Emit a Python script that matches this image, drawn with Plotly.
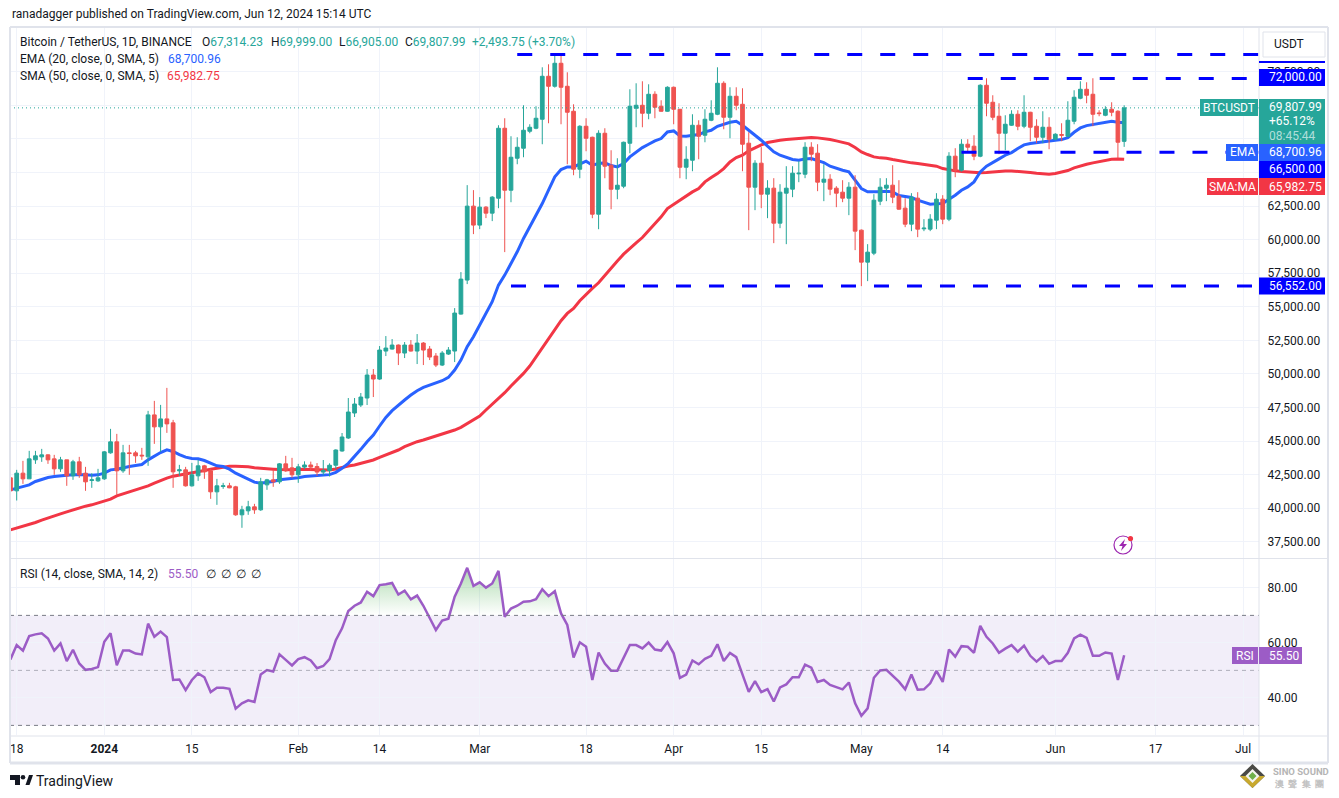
import pandas as pd
import plotly.graph_objects as go
from plotly.subplots import make_subplots

W, H = 1339, 798
FONT = "Roboto"
INK = "#131722"
TEAL = "#26a69a"
RED = "#ef5350"
EMA_BLUE = "#2962ff"
SMA_RED = "#f23645"
LEVEL_BLUE = "#0000ff"
RSI_PURPLE = "#9c5cc6"
GRID = "#f0f3fa"
FRAME = "#e0e3eb"

# daily candles, 17 Dec 2023 onwards
opens = [
    42152, 41185, 42499, 42077, 43491, 43714, 43863, 43565, 42821, 43491,
    42301, 43342, 42499, 41953, 41929, 42077, 44012, 44830, 42673, 44012,
    44012, 43838, 43714, 46839, 45946, 46541, 46244, 42673, 42747, 41557,
    42301, 43045, 42673, 41110, 41507, 41557, 41482, 39399, 39697, 39994,
    39771, 41631, 42003, 41854, 43193, 42896, 42375,
    42950, 43110, 42990, 42580, 42700,
    43090, 44150, 45117, 46977, 47572, 48093, 49804, 49506, 51590, 51739,
    52036, 51441, 52036, 51590, 52185, 51739, 51218, 50548, 51366, 51590,
    54342, 56872, 62378, 60964, 62303, 61857,
    62967, 68175, 63562, 65943, 66687, 67952, 68175, 68844, 72044, 71300,
    73011, 71300, 69440, 65124, 68324, 67505, 61776, 67803, 65422, 63636,
    63860, 67059, 69663, 69886, 69291, 70704, 69812, 69440, 71225, 69588,
    65273, 65794, 68398, 67654, 68770, 69216, 71523, 68993, 70556, 69960,
    67062, 63788, 65574, 63267, 63714, 61110, 63342, 63640, 64780, 64755,
    66764, 66318, 64160, 64383, 63714, 63416, 62970, 63788, 60589, 58208,
    58878, 62747, 63714, 63937, 63119, 62226, 61035, 62970, 60688, 60663,
    61333, 62895, 61407, 66095, 65053, 66987, 66839,
    66093, 71375, 70110, 69069, 67804, 68399, 69217, 68325, 69366, 68325,
    67506, 68250, 67357, 67705, 67581, 68697, 70408, 71077, 70705, 69317,
    69143, 69589, 69441,
]
highs = [
    42200, 42747, 43417, 44161, 44161, 44309, 43900, 43863, 43714, 43491,
    43491, 43714, 42970, 42499, 42821, 44150, 45797, 45425, 44607, 44607,
    44161, 44384, 47137, 47881, 47583, 48848, 46467, 43119, 42970, 43268,
    43491, 43119, 42821, 42077, 41780, 41780, 41557, 40069, 40441, 40217,
    42152, 42077, 42747, 43250, 43789, 43640, 43193,
    43380, 43360, 43250, 43480, 43232,
    44274, 45489, 48093, 48093, 48465, 50250, 50250, 51962, 52706, 52482,
    52080, 52259, 52408, 52854, 52259, 51962, 51441, 51590, 51887, 54789,
    57467, 63940, 63568, 63047, 62378, 63122,
    68398, 68919, 67580, 67505, 69886, 68472, 69812, 72713, 72936, 73606,
    73680, 72341, 69960, 68400, 68919, 67550, 68026, 68175, 66538, 65943,
    67180, 71076, 71523, 71672, 71448, 70928, 70258, 71300, 71280, 69600,
    66836, 69216, 68770, 69588, 70258, 72713, 71672, 71225, 71225, 71151,
    67880, 65797, 66764, 64309, 64458, 64011, 65351, 65351, 65723, 67136,
    67136, 66987, 65499, 64755, 63863, 64309, 64160, 64681, 60640, 59547,
    63267, 64458, 64458, 65425, 64309, 62970, 63342, 63416, 61407, 61779,
    63342, 63193, 66392, 66690, 67359, 67359, 67657,
    71450, 71896, 70631, 70036, 69143, 69515, 69515, 70631, 69400, 68846,
    69441, 68994, 67804, 68548, 70185, 71003, 71673, 71598, 71896, 69515,
    69813, 70110, 69515,
]
lows = [
    41150, 40465, 41705, 42077, 43193, 43342, 43193, 42375, 42598, 41557,
    42003, 42152, 41185, 41408, 41854, 42000, 43950, 40887, 42524, 42375,
    43268, 43491, 43045, 44681, 44086, 45500, 41408, 42301, 41500, 41500,
    41929, 42077, 40589, 40143, 41333, 41380, 39325, 38432, 39399, 39473,
    39697, 41259, 41482, 41705, 42598, 42152, 41780,
    42800, 42700, 42300, 42350, 42250,
    42800, 44100, 45050, 46679, 47423, 47572, 48167, 49450, 51218, 51700,
    50548, 51069, 51550, 50622, 50548, 50920, 50399, 50474, 51300, 50771,
    54300, 56574, 60294, 60666, 61485, 61262,
    62223, 58955, 62669, 65496, 66017, 67803, 68100, 66985, 68547, 71200,
    68472, 65496, 64678, 64455, 66464, 61479, 60660, 64455, 62148, 62892,
    63711, 66315, 68249, 68249, 68844, 68919, 69400, 69400, 68472, 64455,
    64380, 64976, 65868, 67133, 68700, 69150, 68100, 67431, 69514, 64976,
    60589, 62077, 62226, 61482, 59622, 60738, 59547, 63044, 64160, 64458,
    65723, 63491, 62747, 63193, 62300, 62672, 61705, 59101, 56422, 56795,
    58729, 62449, 62747, 62598, 62100, 60812, 60515, 60068, 60515, 60515,
    60663, 61035, 61259, 64532, 64950, 66467, 65797,
    66018, 69069, 68771, 66241, 66539, 68350, 68027, 68176, 67209, 67060,
    67060, 66613, 67283, 67209, 67506, 68473, 70333, 70036, 68325, 69069,
    69069, 69069, 65944,
]
closes = [
    41185, 42499, 42077, 43565, 43789, 43863, 43491, 42821, 43491, 42301,
    43342, 42375, 41854, 42003, 42152, 44086, 44830, 42673, 44012, 43962,
    43789, 43789, 46839, 45946, 46541, 46169, 42598, 42747, 41557, 42375,
    43045, 42598, 41110, 41557, 41557, 41408, 39399, 39771, 39994, 39771,
    41854, 42003, 41854, 43193, 42673, 42375, 42970,
    43110, 42950, 42580, 42700, 43090,
    44224, 45191, 47051, 47646, 48167, 49804, 49506, 51664, 51813, 52036,
    51441, 52036, 51590, 52185, 51664, 51143, 50548, 51441, 51664, 54417,
    56946, 62378, 60964, 62303, 61857, 63047,
    68175, 63562, 66017, 66761, 68026, 68249, 68919, 72044, 71300, 73011,
    71225, 69365, 65124, 68324, 67431, 61776, 67803, 65348, 63636, 63934,
    67133, 69812, 69886, 69291, 70704, 69737, 69440, 71225, 69588, 65273,
    65868, 68398, 67580, 68844, 69291, 71523, 68993, 70556, 69886, 66985,
    63788, 65574, 63267, 63714, 61110, 63416, 63714, 64830, 64830, 66764,
    66243, 64160, 64383, 63640, 63342, 62970, 63788, 60515, 58208, 58952,
    62821, 63788, 63937, 63044, 62151, 61035, 63044, 60663, 60738, 61407,
    62895, 61407, 66095, 65053, 66987, 66764, 66095,
    71375, 70036, 68994, 67804, 68473, 69217, 68325, 69366, 68250, 67506,
    68250, 67357, 67729, 67655, 68771, 70482, 71077, 70631, 69217, 69267,
    69589, 69366, 67134,
]
ema20 = [
    41259, 41383, 41457, 41631, 41879, 42053, 42177, 42251, 42325, 42350,
    42375, 42400, 42375, 42350, 42375, 42499, 42747, 42797, 42921, 42995,
    43070, 43144, 43491, 43789, 44037, 44235, 44111, 43888, 43690, 43590,
    43565, 43441, 43243, 43045, 42995, 42797, 42499, 42251, 42053, 41830,
    41755, 41830, 41879, 42003, 42053, 42077, 42152,
    42250, 42290, 42300, 42330, 42390, 42560,
    42860, 43232, 43728, 44274, 44844, 45340, 46010, 46655, 47150, 47572,
    47944, 48316, 48638, 48886, 49060, 49234, 49382, 49630, 50176, 50920,
    51912, 52656, 53524, 54392, 55260, 56500, 57244, 58112, 58980, 59972,
    60840, 61708,
    62570, 63562, 64554, 65100, 65298, 65298, 65496, 65720, 65422, 65546,
    65596, 65398, 65298, 65546, 66042, 66414, 66736, 66984, 67232, 67406,
    67902, 67976, 67604, 67580, 67654, 67704, 67902, 68026, 68324, 68474,
    68623, 68696, 68398, 68026, 67657, 67285, 66839, 66417, 66169,
    65996, 65847, 65797, 65896, 65921, 65797, 65623, 65350, 65177, 65053,
    64929, 64309, 63689, 63441, 63416, 63441, 63491, 63441, 63168, 63119,
    63020, 62821, 62647, 62523, 62548, 62573, 62893,
    63191, 63563, 63811, 64183, 64927, 65349, 65646, 65894, 66167, 66365,
    66663, 66936, 67035, 67109, 67159, 67234, 67283, 67333, 67482, 67878,
    68201, 68374, 68449, 68523, 68622, 68697, 68622,
]
sma50 = [
    38283, 38407, 38531, 38680, 38829, 39002, 39176, 39325, 39473, 39622,
    39771, 39920, 40044, 40143, 40267, 40391, 40565, 40813, 40962, 41085,
    41234, 41383, 41557, 41755, 41953, 42127, 42276, 42350, 42425, 42524,
    42623, 42697, 42797, 42871, 42945, 43020, 43020, 43020, 42970, 42896,
    42846, 42821, 42797, 42772, 42747, 42747, 42797,
    42780, 42760, 42740, 42730, 42740, 42810,
    42934, 43034, 43108, 43232, 43331, 43480, 43678, 43852, 44026, 44224,
    44472, 44670, 44844, 44968, 45117, 45266, 45365, 45514, 45712,
    45910, 46208, 46456, 46754, 47200, 47622, 48068, 48490, 48986, 49432,
    49928, 50474, 51150, 51912, 52532, 53226, 53846, 54392, 54764, 55334,
    55830, 56252, 56674,
    57240, 57780, 58300, 58800, 59250, 59650,
    60040, 60536, 61082, 61578, 62198, 62520, 62818, 63116, 63438, 63686,
    64182, 64504, 64802, 65174, 65670, 65992,
    66169, 66491, 66739, 66938, 67111, 67211, 67285, 67335, 67384, 67434,
    67484, 67484, 67459, 67409, 67335, 67235, 67136, 67012, 66739, 66417,
    66219, 66045, 65971, 65946, 65847, 65748, 65698, 65599, 65549, 65499,
    65450, 65351, 65177, 65078, 65003, 64954, 64904, 64880, 64855,
    64877, 64927, 64952, 65001, 65001, 64976, 64927, 64877, 64828, 64778,
    64754, 64803, 64902, 65026, 65225, 65373, 65497, 65597, 65696, 65795,
    65869, 65894,
]
rsi = [
    54.0, 59.2, 57.2, 62.5, 63.1, 63.5, 61.6, 57.2, 59.8, 53.4,
    57.5, 52.5, 50.2, 50.5, 51.2, 60.4, 63.5, 51.9, 57.2, 57.2,
    56.1, 55.8, 67.0, 62.2, 64.1, 62.1, 46.5, 46.7, 42.8, 46.5,
    48.9, 47.5, 42.1, 43.7, 43.7, 43.3, 36.1, 38.0, 39.1, 38.5,
    48.5, 50.1, 49.6, 55.8, 53.8, 51.8, 54.1, 54.8, 53.6, 50.8,
    51.6, 54.1, 61.0, 65.3, 71.6, 73.5, 74.7, 78.6, 77.0, 81.0,
    81.3, 81.8, 77.6, 79.0, 75.8, 77.2, 73.5, 68.9, 64.7, 68.1,
    68.8, 76.8, 81.6, 87.3, 80.7, 82.0, 80.1, 81.6, 86.2, 69.5,
    72.5, 73.5, 75.0, 75.1, 75.9, 79.5, 77.0, 78.8, 70.7, 66.5,
    54.7, 60.2, 58.6, 46.5, 56.5,
    52.5, 49.9, 49.9, 54.4, 59.2, 59.2, 58.0, 60.1, 57.6, 57.2,
    60.3, 56.2, 47.3, 48.5, 53.6, 52.2, 54.2, 55.3, 59.5, 53.4,
    56.3, 54.8, 48.1, 42.2, 46.1, 42.1, 43.2, 38.7, 43.8, 44.9,
    47.5, 47.5, 52.1, 51.0, 45.8, 46.5, 44.7, 43.9, 43.1, 45.6,
    38.0, 33.5, 36.2, 47.3, 50.0, 50.2, 48.2, 45.9, 43.1, 48.5,
    43.0, 43.1, 45.3, 49.8, 45.8, 57.6, 55.0, 58.8, 58.6, 56.4,
    66.2, 62.2, 59.8, 56.4, 57.9, 59.2, 56.8, 59.0, 55.3, 53.2,
    55.2, 52.4, 53.4, 53.4, 56.4, 61.6, 63.0, 61.8, 55.3, 55.3,
    56.5, 56.1, 46.5, 55.5,
]

# my readings came out a touch low against the price grid
READ_OFFSET = 115
opens = [v + READ_OFFSET for v in opens] + [67314.23]
highs = [v + READ_OFFSET for v in highs] + [69999.00]
lows = [v + READ_OFFSET for v in lows] + [66905.00]
closes = [v + READ_OFFSET for v in closes] + [69807.99]
ema20 = [v + READ_OFFSET for v in ema20] + [68700.96]
sma50 = [v + READ_OFFSET for v in sma50] + [65982.75]

dates = pd.date_range("2023-12-17", periods=len(closes), freq="D")

level_prices = [73777, 72000, 66500, 56552]
level_starts = ["2024-03-07", "2024-05-18", "2024-05-17", "2024-03-06"]
level_end = "2024-07-06"

price_ticks = [37500, 40000, 42500, 45000, 47500, 50000, 52500, 55000, 57500,
               60000, 62500, 65000, 67500, 70000, 72500]
# these three sit behind the last-price labels, only their grid lines show
price_hidden = [65000, 67500, 70000]
rsi_ticks = [40, 60, 80]
date_ticks = ["2023-12-18", "2024-01-01", "2024-01-15", "2024-02-01", "2024-02-14",
              "2024-03-01", "2024-03-18", "2024-04-01", "2024-04-15", "2024-05-01",
              "2024-05-14", "2024-06-01", "2024-06-17", "2024-07-01"]
date_labels = ["18", "<b>2024</b>", "15", "Feb", "14", "Mar", "18", "Apr", "15", "May",
               "14", "Jun", "17", "Jul"]

X_RANGE = ["2023-12-16 22:20", "2024-07-03 13:12"]
PRICE_RANGE = [36300, 75827]
RSI_RANGE = [26.5, 90.5]

shapes = []
annotations = []


def px(x):
    return x / W


def py(y):
    return 1 - y / H


def label(x, y, text, color=INK, size=12, anchor="left"):
    annotations.append(dict(xref="paper", yref="paper", x=px(x), y=py(y), text=text,
                            xanchor=anchor, yanchor="middle", showarrow=False,
                            font=dict(family=FONT, size=size, color=color)))


def box(x0, y0, x1, y1, color):
    shapes.append(dict(type="rect", xref="paper", yref="paper", layer="above",
                       x0=px(x0), x1=px(x1), y0=py(y0), y1=py(y1),
                       fillcolor=color, line_width=0))


def frame_line(x0, y0, x1, y1, width=1):
    shapes.append(dict(type="line", xref="paper", yref="paper", layer="above",
                       x0=px(x0), x1=px(x1), y0=py(y0), y1=py(y1),
                       line=dict(color=FRAME, width=width)))


def polygon(points, color):
    path = "M" + " L".join(f"{px(x):.5f},{py(y):.5f}" for x, y in points) + " Z"
    shapes.append(dict(type="path", xref="paper", yref="paper", layer="above", path=path,
                       fillcolor=color, line_width=0))


def circle(cx, cy, r, fill, line_color=None, width=0):
    shapes.append(dict(type="circle", xref="paper", yref="paper", layer="above",
                       x0=px(cx - r), x1=px(cx + r), y0=py(cy - r), y1=py(cy + r),
                       fillcolor=fill, line=dict(color=line_color, width=width)))


fig = make_subplots(rows=2, cols=1, shared_xaxes=True, vertical_spacing=0)

fig.add_trace(go.Scatter(x=dates, y=sma50, mode="lines", zorder=0,
                         line=dict(color=SMA_RED, width=3)), row=1, col=1)
fig.add_trace(go.Scatter(x=dates, y=ema20, mode="lines", zorder=0,
                         line=dict(color=EMA_BLUE, width=3)), row=1, col=1)
fig.add_trace(go.Candlestick(x=dates, open=opens, high=highs, low=lows, close=closes, zorder=1,
                             whiskerwidth=0,
                             increasing=dict(line=dict(color=TEAL, width=1), fillcolor=TEAL),
                             decreasing=dict(line=dict(color=RED, width=1), fillcolor=RED)),
              row=1, col=1)
for price, start in zip(level_prices, level_starts):
    fig.add_trace(go.Scatter(x=[start, level_end], y=[price, price], mode="lines", zorder=2,
                             line=dict(color=LEVEL_BLUE, width=3, dash="15px,18px")),
                  row=1, col=1)

# overbought gradient between the 70 line and the RSI
fig.add_trace(go.Scatter(x=dates, y=[70] * len(rsi), mode="lines", line=dict(width=0)),
              row=2, col=1)
fig.add_trace(go.Scatter(x=dates, y=[max(v, 70) for v in rsi], mode="lines", line=dict(width=0),
                         fill="tonexty",
                         fillgradient=dict(type="vertical", colorscale=[
                             [0, "rgba(76,175,80,0)"], [1, "rgba(76,175,80,0.45)"]])),
              row=2, col=1)
fig.add_trace(go.Scatter(x=dates, y=rsi, mode="lines",
                         line=dict(color=RSI_PURPLE, width=2.5)), row=2, col=1)

# rsi band and its dashed bounds
shapes.append(dict(type="rect", xref="paper", yref="y2", layer="below", x0=px(10), x1=px(1259),
                   y0=30, y1=70, fillcolor="rgba(126,87,194,0.1)", line_width=0))
for level, color in [(70, "#787b86"), (50, "rgba(120,123,134,0.55)"), (30, "#787b86")]:
    shapes.append(dict(type="line", xref="paper", yref="y2", layer="above", x0=px(10), x1=px(1259),
                       y0=level, y1=level, line=dict(color=color, width=1, dash="4px,4px")))

# last price line
shapes.append(dict(type="line", xref="paper", yref="y", layer="above", x0=px(10), x1=px(1259),
                   y0=closes[-1], y1=closes[-1], line=dict(color=TEAL, width=1, dash="1px,3px")))

# frame
frame_line(10, 27, 1328, 27, 2)
frame_line(10, 558.5, 1328, 558.5)
frame_line(10, 736, 1328, 736)
frame_line(10, 763, 1328, 763, 3)
frame_line(10, 27, 10, 763, 2)
frame_line(1259, 27, 1259, 763)
frame_line(1328, 27, 1328, 763, 2)

# price scale labels
box(1259, 61, 1325, 63, LEVEL_BLUE)
box(1259, 69, 1325, 86, LEVEL_BLUE)
label(1267, 77.5, "72,000.00", "#ffffff")
box(1200, 99, 1258, 116, TEAL)
label(1229, 107.5, "BTCUSDT", "#ffffff", anchor="center")
box(1259, 99, 1325, 144, TEAL)
label(1267, 107, "69,807.99", "#ffffff")
label(1267, 121, "+65.12%", "#ffffff")
label(1267, 135.5, "08:45:44", "rgba(255,255,255,0.65)")
box(1226, 144, 1258, 161, EMA_BLUE)
label(1242, 152.5, "EMA", "#ffffff", anchor="center")
box(1259, 144, 1325, 161, EMA_BLUE)
label(1267, 152.5, "68,700.96", "#ffffff")
box(1259, 161, 1325, 178, LEVEL_BLUE)
label(1267, 169.5, "66,500.00", "#ffffff")
box(1207, 178, 1258, 195, SMA_RED)
label(1232.5, 186.5, "SMA:MA", "#ffffff", anchor="center")
box(1259, 178, 1325, 195, SMA_RED)
label(1267, 186.5, "65,982.75", "#ffffff")
box(1259, 277.5, 1325, 294.5, LEVEL_BLUE)
label(1267, 286, "56,552.00", "#ffffff")
box(1232, 647, 1258, 664, RSI_PURPLE)
label(1245, 655.5, "RSI", "#ffffff", anchor="center")
box(1259, 647, 1302, 664, RSI_PURPLE)
label(1267, 655.5, "55.50", "#ffffff")

# currency button
shapes.append(dict(type="rect", xref="paper", yref="paper", layer="above", x0=px(1263), x1=px(1325),
                   y0=py(57), y1=py(32), fillcolor="#ffffff", line=dict(color=FRAME, width=1)))
label(1272, 44.5, "USDT")

# header and legends
label(10, 14, "ranadagger published on TradingView.com, Jun 12, 2024 15:14 UTC")
label(18, 42, "Bitcoin / TetherUS, 1D, BINANCE")
for x, head, value in [(200, "O", "67,314.23"), (269, "H", "69,999.00"),
                       (337, "L", "66,905.00"), (403, "C", "69,807.99")]:
    label(x, 42, f'{head}<span style="color:{TEAL}">{value}</span>')
label(470, 42, "+2,493.75 (+3.70%)", TEAL)
label(18, 59, "EMA (20, close, 0, SMA, 5)")
label(166, 59, "68,700.96", EMA_BLUE)
label(18, 76, "SMA (50, close, 0, SMA, 5)")
label(165, 76, "65,982.75", SMA_RED)
label(18, 574, "RSI (14, close, SMA, 14, 2)")
label(166, 574, "55.50", RSI_PURPLE)
for x in [204, 219, 234, 249]:
    label(x, 574, "∅")

# earnings-style flash icon
circle(1123, 545, 9, "rgba(255,255,255,0)", "#9c27b0", 1.2)
polygon([(1125, 539), (1119, 546), (1122.5, 546), (1121, 551), (1127, 544), (1123.5, 544)], "#9c27b0")
circle(1130.5, 538.5, 2.6, "#f23645")

# tradingview mark
polygon([(10, 775), (20, 775), (20, 785), (15, 785), (15, 780), (10, 780)], INK)
circle(23, 777.3, 2.3, INK)
polygon([(25.5, 785), (29, 775), (33, 775), (29.5, 785)], INK)
label(34, 780.5, "TradingView", INK, 14)

# watermark
polygon([(1252.5, 764), (1265, 776), (1252.5, 788), (1240, 776)], "#4a4a46")
polygon([(1252.5, 788), (1240, 776), (1246, 776), (1252.5, 782), (1259, 776), (1265, 776)], "#c9a92e")
polygon([(1252.5, 769), (1259.5, 776), (1252.5, 783), (1245.5, 776)], "#f5f5f0")
polygon([(1252.5, 772), (1256.5, 776), (1252.5, 780), (1248.5, 776)], "#6fb04a")
label(1271, 771, "<b>SINO SOUND</b>", "#b5b5b5", 9.5)
label(1272, 784, "<b>澳  聲  集  團</b>", "#c2c2c2", 9)

axis_font = dict(family=FONT, size=12, color=INK)
fig.update_layout(
    width=W, height=H, margin=dict(l=0, r=0, t=0, b=0), showlegend=False,
    paper_bgcolor="#ffffff", plot_bgcolor="#ffffff", boxgap=0.15,
    font=dict(family=FONT, size=12, color=INK),
    shapes=shapes, annotations=annotations,
    xaxis=dict(domain=[px(10), px(1259)], range=X_RANGE, type="date", rangeslider_visible=False,
               tickmode="array", tickvals=date_ticks, ticktext=date_labels,
               showticklabels=False, showgrid=True, gridcolor=GRID, gridwidth=1, zeroline=False),
    xaxis2=dict(domain=[px(10), px(1259)], range=X_RANGE, type="date", rangeslider_visible=False,
                tickmode="array", tickvals=date_ticks, ticktext=date_labels, tickangle=0,
                showgrid=True, gridcolor=GRID, gridwidth=1, zeroline=False, tickfont=axis_font,
                ticks="outside", ticklen=3, tickcolor="rgba(0,0,0,0)"),
    yaxis=dict(domain=[py(558), py(27)], range=PRICE_RANGE, side="right", tickmode="array",
               tickvals=price_ticks,
               ticktext=["" if v in price_hidden else f"{v:,.2f}" for v in price_ticks],
               showgrid=True, gridcolor=GRID, gridwidth=1, zeroline=False, tickfont=axis_font,
               ticks="outside", ticklen=5, tickcolor="rgba(0,0,0,0)"),
    yaxis2=dict(domain=[py(735), py(559)], range=RSI_RANGE, side="right", tickmode="array",
                tickvals=rsi_ticks, ticktext=[f"{v:.2f}" for v in rsi_ticks],
                showgrid=True, gridcolor=GRID, gridwidth=1, zeroline=False, tickfont=axis_font,
                ticks="outside", ticklen=5, tickcolor="rgba(0,0,0,0)"),
)

fig.write_html("out.html", config=dict(displayModeBar=False),
               post_script="document.body.style.margin='0';document.body.style.overflow='hidden';")
